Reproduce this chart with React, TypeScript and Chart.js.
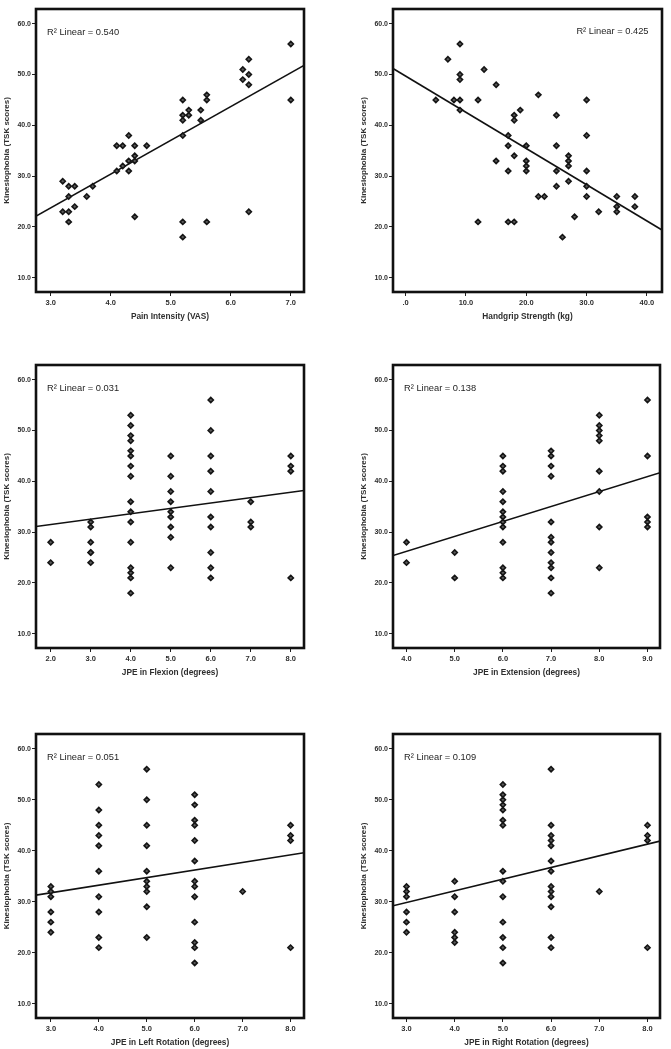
import React, { useEffect, useRef } from "react";
import { Chart, registerables } from "chart.js";
Chart.register(...registerables);

// ---------- shared ----------
const yTickValues = [10, 20, 30, 40, 50, 60];
const yTitle = "Kinesiophobia (TSK scores)";

// ---------- Panel 1: Pain Intensity ----------
const painX = [3.2, 3.3, 3.4, 3.3, 3.6, 3.7, 3.2, 3.3, 3.4, 3.3, 4.1, 4.1, 4.2, 4.2, 4.3, 4.3, 4.3, 4.4, 4.4, 4.4, 4.6, 4.4, 5.2, 5.2, 5.2, 5.2, 5.3, 5.3, 5.5, 5.5, 5.6, 5.6, 5.2, 5.2, 5.6, 6.2, 6.2, 6.3, 6.3, 6.3, 6.3, 7.0, 7.0];
const painY = [29, 28, 28, 26, 26, 28, 23, 23, 24, 21, 31, 36, 36, 32, 38, 33, 31, 36, 34, 33, 36, 22, 45, 42, 41, 38, 43, 42, 43, 41, 46, 45, 21, 18, 21, 51, 49, 53, 50, 48, 23, 56, 45];
const painFitX = [2.75, 7.22];
const painFitY = [22.1, 51.8];
const painTicks = [3, 4, 5, 6, 7];

// ---------- Panel 2: Handgrip Strength ----------
const gripX = [5, 7, 9, 9, 9, 8, 9, 9, 12, 13, 15, 15, 12, 17, 17, 17, 17, 18, 18, 18, 18, 19, 20, 20, 20, 20, 22, 22, 23, 25, 25, 25, 25, 26, 27, 27, 27, 27, 28, 30, 30, 30, 30, 30, 32, 35, 35, 35, 38, 38];
const gripY = [45, 53, 56, 50, 49, 45, 45, 43, 45, 51, 48, 33, 21, 38, 36, 31, 21, 42, 41, 34, 21, 43, 36, 33, 32, 31, 46, 26, 26, 42, 36, 31, 28, 18, 34, 33, 32, 29, 22, 45, 38, 31, 28, 26, 23, 26, 24, 23, 26, 24];
const gripFitX = [-2.1, 42.5];
const gripFitY = [51.2, 19.4];
const gripTicks = [0, 10, 20, 30, 40];

// ---------- Panel 3: JPE in Flexion ----------
const flexX = [2, 2, 3, 3, 3, 3, 3, 3, 4, 4, 4, 4, 4, 4, 4, 4, 4, 4, 4, 4, 4, 4, 4, 4, 5, 5, 5, 5, 5, 5, 5, 5, 5, 6, 6, 6, 6, 6, 6, 6, 6, 6, 6, 7, 7, 7, 8, 8, 8, 8];
const flexY = [28, 24, 32, 31, 28, 26, 26, 24, 53, 51, 49, 48, 46, 45, 43, 41, 36, 34, 32, 28, 23, 22, 21, 18, 45, 41, 38, 36, 34, 33, 31, 29, 23, 56, 50, 45, 42, 38, 33, 31, 26, 23, 21, 36, 32, 31, 45, 43, 42, 21];
const flexFitX = [1.63, 8.33];
const flexFitY = [31.1, 38.2];
const flexTicks = [2, 3, 4, 5, 6, 7, 8];

// ---------- Panel 4: JPE in Extension ----------
const extX = [4, 4, 5, 5, 6, 6, 6, 6, 6, 6, 6, 6, 6, 6, 6, 6, 6, 7, 7, 7, 7, 7, 7, 7, 7, 7, 7, 7, 7, 8, 8, 8, 8, 8, 8, 8, 8, 8, 9, 9, 9, 9, 9];
const extY = [28, 24, 26, 21, 45, 43, 42, 38, 36, 34, 33, 32, 31, 28, 23, 22, 21, 46, 45, 43, 41, 32, 29, 28, 26, 24, 23, 21, 18, 53, 51, 50, 49, 48, 42, 38, 31, 23, 56, 45, 33, 32, 31];
const extFitX = [3.72, 9.26];
const extFitY = [25.4, 41.7];
const extTicks = [4, 5, 6, 7, 8, 9];

// ---------- Panel 5: JPE in Left Rotation ----------
const leftX = [3, 3, 3, 3, 3, 3, 4, 4, 4, 4, 4, 4, 4, 4, 4, 4, 5, 5, 5, 5, 5, 5, 5, 5, 5, 5, 6, 6, 6, 6, 6, 6, 6, 6, 6, 6, 6, 6, 6, 7, 8, 8, 8, 8];
const leftY = [33, 32, 31, 28, 26, 24, 53, 48, 45, 43, 41, 36, 31, 28, 23, 21, 56, 50, 45, 41, 36, 34, 33, 32, 29, 23, 51, 49, 46, 45, 42, 38, 34, 33, 31, 26, 22, 21, 18, 32, 45, 43, 42, 21];
const leftFitX = [2.69, 8.28];
const leftFitY = [31.3, 39.6];
const leftTicks = [3, 4, 5, 6, 7, 8];

// ---------- Panel 6: JPE in Right Rotation ----------
const rightX = [3, 3, 3, 3, 3, 3, 4, 4, 4, 4, 4, 4, 5, 5, 5, 5, 5, 5, 5, 5, 5, 5, 5, 5, 5, 5, 6, 6, 6, 6, 6, 6, 6, 6, 6, 6, 6, 6, 6, 7, 8, 8, 8, 8];
const rightY = [33, 32, 31, 28, 26, 24, 34, 31, 28, 24, 23, 22, 53, 51, 50, 49, 48, 46, 45, 36, 34, 31, 26, 23, 21, 18, 56, 45, 43, 42, 41, 38, 36, 33, 32, 31, 29, 23, 21, 32, 45, 43, 42, 21];
const rightFitX = [2.72, 8.26];
const rightFitY = [29.2, 41.9];
const rightTicks = [3, 4, 5, 6, 7, 8];

const zip = (xs: number[], ys: number[]) => xs.map((x, i) => ({ x, y: ys[i] }));

type Panel = {
  xs: number[]; ys: number[]; fx: number[]; fy: number[]; ticks: number[];
  xMin: number; xMax: number; xTitle: string; label: string; labelRight?: boolean;
  cellX: number; cellY: number; cellW: number; cellH: number;
  aL: number; aR: number; aT: number; aB: number;
};

const panels: Panel[] = [
  { xs: painX, ys: painY, fx: painFitX, fy: painFitY, ticks: painTicks, xMin: 2.755, xMax: 7.22, xTitle: "Pain Intensity (VAS)", label: "R\u00B2 Linear = 0.540",
    cellX: 0, cellY: 0, cellW: 335, cellH: 340, aL: 36, aR: 304, aT: 9, aB: 292 },
  { xs: gripX, ys: gripY, fx: gripFitX, fy: gripFitY, ticks: gripTicks, xMin: -2.1, xMax: 42.5, xTitle: "Handgrip Strength (kg)", label: "R\u00B2 Linear = 0.425", labelRight: true,
    cellX: 335, cellY: 0, cellW: 336, cellH: 340, aL: 58, aR: 327, aT: 9, aB: 292 },
  { xs: flexX, ys: flexY, fx: flexFitX, fy: flexFitY, ticks: flexTicks, xMin: 1.633, xMax: 8.33, xTitle: "JPE in Flexion (degrees)", label: "R\u00B2 Linear = 0.031",
    cellX: 0, cellY: 340, cellW: 335, cellH: 350, aL: 36, aR: 304, aT: 25, aB: 308 },
  { xs: extX, ys: extY, fx: extFitX, fy: extFitY, ticks: extTicks, xMin: 3.72, xMax: 9.26, xTitle: "JPE in Extension (degrees)", label: "R\u00B2 Linear = 0.138",
    cellX: 335, cellY: 340, cellW: 336, cellH: 350, aL: 58, aR: 325, aT: 25, aB: 308 },
  { xs: leftX, ys: leftY, fx: leftFitX, fy: leftFitY, ticks: leftTicks, xMin: 2.69, xMax: 8.28, xTitle: "JPE in Left Rotation (degrees)", label: "R\u00B2 Linear = 0.051",
    cellX: 0, cellY: 690, cellW: 335, cellH: 359, aL: 36, aR: 304, aT: 44, aB: 328 },
  { xs: rightX, ys: rightY, fx: rightFitX, fy: rightFitY, ticks: rightTicks, xMin: 2.72, xMax: 8.26, xTitle: "JPE in Right Rotation (degrees)", label: "R\u00B2 Linear = 0.109",
    cellX: 335, cellY: 690, cellW: 336, cellH: 359, aL: 58, aR: 325, aT: 44, aB: 328 },
];

const FONT = "'Liberation Sans', Arial, sans-serif";
const fmt = (v: number) => (v === 0 ? ".0" : Number(v).toFixed(1));

const boxPlugin = {
  id: "box",
  afterDraw(chart: any, _args: any, opts: any) {
    const { ctx, chartArea: a } = chart;
    ctx.save();
    ctx.lineWidth = 2.6;
    ctx.strokeStyle = "#111";
    ctx.strokeRect(a.left, a.top, a.right - a.left, a.bottom - a.top);
    ctx.font = `9.3px ${FONT}`;
    ctx.fillStyle = "#1e1e1e";
    ctx.textBaseline = "middle";
    if (opts.right) {
      ctx.textAlign = "right";
      ctx.fillText(opts.text, a.right - 13.5, a.top + 22);
    } else {
      ctx.textAlign = "left";
      ctx.fillText(opts.text, a.left + 11, a.top + 23);
    }
    ctx.restore();
  },
};

function ScatterPanel({ p }: { p: Panel }) {
  const ref = useRef<HTMLCanvasElement>(null);
  useEffect(() => {
    if (!ref.current) return;
    const chart = new Chart(ref.current, {
      type: "scatter",
      data: {
        datasets: [
          {
            type: "scatter",
            data: zip(p.xs, p.ys),
            pointStyle: "rectRot",
            pointRadius: 2.6,
            pointBackgroundColor: "#5a5a5a",
            pointBorderColor: "#151515",
            pointBorderWidth: 1.6,
          } as any,
          {
            type: "line",
            data: zip(p.fx, p.fy),
            showLine: true,
            borderColor: "#111",
            borderWidth: 1.6,
            pointRadius: 0,
            fill: false,
          } as any,
        ],
      },
      plugins: [boxPlugin as any],
      options: {
        animation: false,
        responsive: false,
        events: [],
        layout: {
          padding: {
            left: p.aL - 36,
            top: p.aT,
            right: p.cellW - p.aR,
            bottom: p.cellH - p.aB - 31,
          },
        },
        plugins: {
          legend: { display: false },
          tooltip: { enabled: false },
          box: { text: p.label, right: !!p.labelRight },
        } as any,
        scales: {
          x: {
            type: "linear",
            min: p.xMin,
            max: p.xMax,
            afterBuildTicks: (s: any) => { s.ticks = p.ticks.map((v) => ({ value: v })); },
            afterFit: (s: any) => { s.height = 31; },
            grid: { drawOnChartArea: false, drawTicks: true, tickLength: 4, color: "#222", lineWidth: 1 },
            border: { display: false },
            ticks: { callback: (v: any) => fmt(v), font: { family: FONT, size: 7.5, weight: "bold" }, color: "#2e2e2e", padding: 2, maxRotation: 0, autoSkip: false },
            title: { display: true, text: p.xTitle, font: { family: FONT, size: 8.3, weight: "bold" }, color: "#2e2e2e", padding: { top: 0, bottom: 1.6 } },
          },
          y: {
            type: "linear",
            min: 7.2,
            max: 62.9,
            afterBuildTicks: (s: any) => { s.ticks = yTickValues.map((v) => ({ value: v })); },
            afterFit: (s: any) => { s.width = 36; },
            grid: { drawOnChartArea: false, drawTicks: true, tickLength: 4, color: "#222", lineWidth: 1 },
            border: { display: false },
            ticks: { callback: (v: any) => fmt(v), font: { family: FONT, size: 7, weight: "bold" }, color: "#2e2e2e", padding: 1, autoSkip: false },
            title: { display: true, text: yTitle, font: { family: FONT, size: 8, weight: "bold" }, color: "#2e2e2e", padding: { top: 1.6, bottom: 0 } },
          },
        },
      } as any,
    });
    return () => chart.destroy();
  }, [p]);
  return (
    <canvas
      ref={ref}
      width={p.cellW}
      height={p.cellH}
      style={{ position: "absolute", left: p.cellX, top: p.cellY, width: p.cellW, height: p.cellH }}
    />
  );
}

export default function App() {
  return (
    <div style={{ position: "absolute", left: 0, top: 0, width: 671, height: 1049, background: "#fff" }}>
      {panels.map((p, i) => (
        <ScatterPanel key={i} p={p} />
      ))}
    </div>
  );
}
